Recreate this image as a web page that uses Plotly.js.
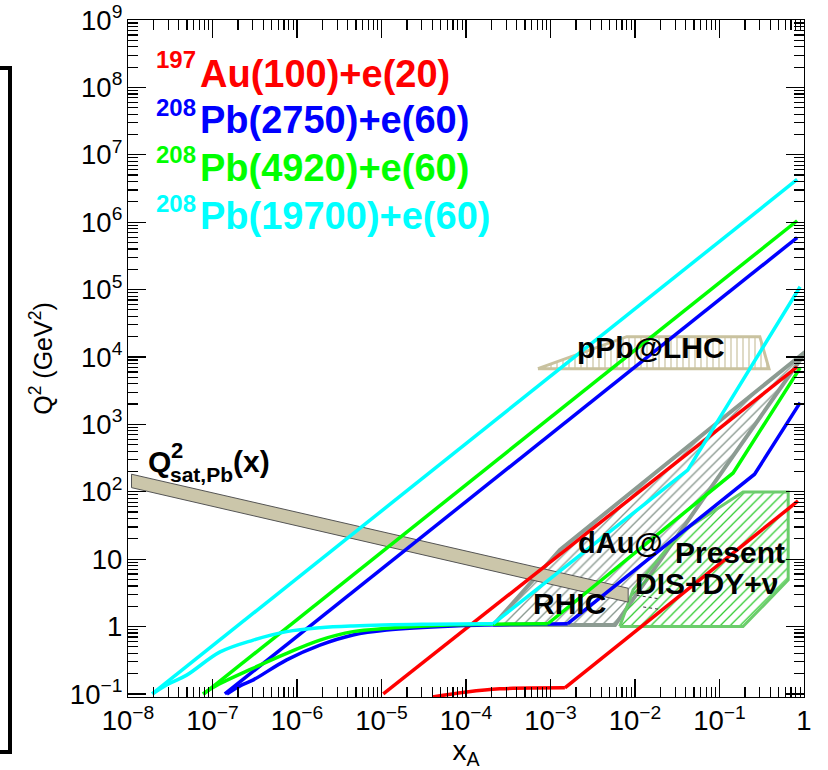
<!DOCTYPE html>
<html><head><meta charset="utf-8">
<script src="https://cdn.plot.ly/plotly-3.0.1.min.js"></script>
<style>html,body{margin:0;padding:0;background:#fff}#chart{width:828px;height:770px}</style>
</head><body><div id="chart"></div>
<script>
// ---------------- data ----------------
const beamLabels   = ['Au(100)+e(20)', 'Pb(2750)+e(60)', 'Pb(4920)+e(60)', 'Pb(19700)+e(60)'];
const massNumbers  = ['197', '208', '208', '208'];
const beamColors   = ['#ff0000', '#0000ff', '#00ff00', '#00ffff'];

// upper kinematic limits (straight lines)
const auUpperX      = [1.05e-5, 0.83];
const auUpperQ2     = [0.1, 7100];
const pb2750UpperX  = [1.4e-7, 0.83];
const pb2750UpperQ2 = [0.1, 5.9e5];
const pb4920UpperX  = [7.9e-8, 0.83];
const pb4920UpperQ2 = [0.1, 1.05e6];
const pb19700UpperX = [1.93e-8, 0.83];
const pb19700UpperQ2= [0.1, 4.3e6];

// lower limits: a smooth rise to a plateau, then straight pieces
const auLowerX      = [4.0e-5, 1.02e-4, 2.5e-4, 1.48e-3, 0.85];
const auLowerQ2     = [0.09, 0.107, 0.119, 0.123, 73];
const auKnee        = 3;
const pb2750LowerX  = [1.48e-7, 2.2e-7, 3.0e-7, 7.55e-7, 1.87e-6, 4.6e-6, 1.15e-5, 7.1e-5, 1.6e-3, 0.26, 0.9];
const pb2750LowerQ2 = [0.1, 0.135, 0.16, 0.32, 0.53, 0.75, 0.89, 1.02, 1.1, 182, 2100];
const pb2750Knee    = 8;
const pb4920LowerX  = [7.7e-8, 1.2e-7, 3.0e-7, 7.55e-7, 1.87e-6, 4.6e-6, 1.15e-5, 7.1e-5, 9.3e-4, 0.145, 0.9];
const pb4920LowerQ2 = [0.1, 0.14, 0.24, 0.40, 0.63, 0.84, 0.94, 1.06, 1.1, 190, 6900];
const pb4920Knee    = 8;
const pb19700LowerX = [1.95e-8, 3.0e-8, 4.95e-8, 1.23e-7, 3.04e-7, 7.55e-7, 1.87e-6, 4.6e-6, 3.0e-5, 2.1e-4, 0.042, 0.9];
const pb19700LowerQ2= [0.1, 0.14, 0.19, 0.42, 0.63, 0.84, 0.96, 1.02, 1.08, 1.1, 209, 1.1e5];
const pb19700Knee   = 9;

// regions
const qsatX   = [1.1e-8, 8.3e-3, 8.3e-3, 1.1e-8, 1.1e-8];
const qsatQ2  = [182, 3.7, 2.3, 115, 182];
const pPbX    = [7.1e-4, 8.0e-3, 0.30, 0.385, 7.1e-4];
const pPbQ2   = [6.7e3, 2.0e4, 2.0e4, 6.7e3, 6.7e3];
const rhicX   = [2.1e-4, 1.29e-3, 1.08, 5.8e-3, 2.1e-4];
const rhicQ2  = [1.05, 13.7, 1.25e4, 1.05, 1.05];
const disX    = [6.6e-3, 9.5e-3, 0.034, 0.19, 0.65, 0.65, 0.19, 6.6e-3];
const disQ2   = [1.0, 3.5, 24.5, 99, 99, 4.9, 1.0, 1.0];
const dot1X   = [0.0105, 0.0185];
const dot1Q2  = [2.9, 2.6];
const dot2X   = [0.0125, 0.0195];
const dot2Q2  = [1.95, 1.8];

// ---------------- styling ----------------
const FONT = 'Liberation Sans, Arial, Helvetica, sans-serif';
const L = 128, R = 804, T = 20, B = 697;
const PX = px => (px - L) / (R - L);
const PY = py => (B - py) / (B - T);

function line(x, y, color, width, dash, shape) {
  return {x, y, type: 'scatter', mode: 'lines',
          line: {color, width, dash: dash || 'solid', shape: shape || 'linear', smoothing: 1},
          hoverinfo: 'skip', showlegend: false};
}
function region(x, y, lineColor, lineWidth, pattern, fillcolor) {
  const t = {x, y, type: 'scatter', mode: 'lines', fill: 'toself',
             line: {color: lineColor, width: lineWidth}, hoverinfo: 'skip', showlegend: false,
             fillcolor: fillcolor || 'rgba(0,0,0,0)'};
  if (pattern) t.fillpattern = pattern;
  return t;
}
// lower limit: smooth part (spline) + straight part
function lowerLimit(x, y, knee, color) {
  return [line(x.slice(0, knee + 1), y.slice(0, knee + 1), color, 3.5, 'solid', 'spline'),
          line(x.slice(knee), y.slice(knee), color, 3.5)];
}

const traces = [
  region(pPbX, pPbQ2, '#c9c29f', 3, {shape: '|', fgcolor: '#c9c29f', bgcolor: 'rgba(255,255,255,0)', size: 6, solidity: 0.2}),
  region(rhicX, rhicQ2, '#8c9b92', 4, {shape: '/', fgcolor: '#8c9b92', bgcolor: 'rgba(255,255,255,0)', size: 7, solidity: 0.2}),
  region(disX, disQ2, '#6ccc6c', 3, {shape: '/', fgcolor: '#33cc33', bgcolor: 'rgba(255,255,255,0)', size: 7, solidity: 0.18}),
  region(qsatX, qsatQ2, '#555555', 1, null, '#cbc6aa'),
  line(dot1X, dot1Q2, '#333333', 1, 'dot'),
  line(dot2X, dot2Q2, '#333333', 1, 'dot'),
  line(auUpperX, auUpperQ2, beamColors[0], 3.5),
  ...lowerLimit(auLowerX, auLowerQ2, auKnee, beamColors[0]),
  line(pb2750UpperX, pb2750UpperQ2, beamColors[1], 3.5),
  ...lowerLimit(pb2750LowerX, pb2750LowerQ2, pb2750Knee, beamColors[1]),
  line(pb4920UpperX, pb4920UpperQ2, beamColors[2], 3.5),
  ...lowerLimit(pb4920LowerX, pb4920LowerQ2, pb4920Knee, beamColors[2]),
  line(pb19700UpperX, pb19700UpperQ2, beamColors[3], 3.5),
  ...lowerLimit(pb19700LowerX, pb19700LowerQ2, pb19700Knee, beamColors[3])
];

function txt(text, px, py, size, color, xanchor) {
  return {text: '<b>' + text + '</b>', xref: 'paper', yref: 'paper',
          x: PX(px), y: PY(py), xanchor: xanchor || 'left', yanchor: 'middle',
          showarrow: false, font: {family: FONT, size, color: color || '#000'}};
}

const annotations = [];
const rowY = [74, 120, 168, 216];
const supY = [59, 107, 155, 203];
for (let i = 0; i < beamLabels.length; i++) {
  annotations.push(txt(massNumbers[i], 154, supY[i], 24, beamColors[i]));
  annotations.push(txt(beamLabels[i], 198, rowY[i], 38, beamColors[i]));
}
annotations.push(txt('pPb@LHC', 651, 347, 30, '#000', 'center'));
annotations.push(txt('dAu@', 620, 543, 29, '#000', 'center'));
annotations.push(txt('RHIC', 569, 603, 30, '#000', 'center'));
annotations.push(txt('Present', 730, 552, 30, '#000', 'center'));
annotations.push(txt('DIS+DY+ν', 706, 583, 30, '#000', 'center'));
annotations.push(txt('Q', 146, 461, 30, '#000'));
annotations.push(txt('2', 169, 450, 22, '#000'));
annotations.push(txt('sat,Pb', 168, 475, 21, '#000'));
annotations.push(txt('(x)', 231, 461, 30, '#000'));

const axisCommon = {
  type: 'log', dtick: 1, exponentformat: 'power', showgrid: false, zeroline: false,
  showline: true, linecolor: '#000', linewidth: 1.2, mirror: 'ticks',
  ticks: 'inside', ticklen: 18, tickwidth: 1.2, tickcolor: '#000',
  minor: {ticks: 'inside', ticklen: 10, tickwidth: 1.2, tickcolor: '#000', dtick: 'D1', showgrid: false},
  tickfont: {family: FONT, size: 22, color: '#000'}
};

const layout = {
  width: 828, height: 770,
  margin: {l: L, r: 828 - R, t: T, b: 770 - B},
  paper_bgcolor: '#fff', plot_bgcolor: '#fff',
  showlegend: false,
  xaxis: Object.assign({}, axisCommon, {range: [-8, 0],
    title: {text: 'x<sub>A</sub>', font: {family: FONT, size: 28, color: '#000'}, standoff: 4}}),
  yaxis: Object.assign({}, axisCommon, {range: [Math.log10(0.09), 9],
    title: {text: 'Q<sup>2</sup> (GeV<sup>2</sup>)', font: {family: FONT, size: 25, color: '#000'}, standoff: 10}}),
  annotations,
  shapes: [{type: 'path', xref: 'paper', yref: 'paper',
            path: `M ${PX(-6)} ${PY(68)} L ${PX(10)} ${PY(68)} L ${PX(10)} ${PY(752)} L ${PX(-6)} ${PY(752)}`,
            line: {color: '#000', width: 4}}]
};

Plotly.newPlot('chart', traces, layout, {staticPlot: true, displayModeBar: false});
</script>
</body></html>
